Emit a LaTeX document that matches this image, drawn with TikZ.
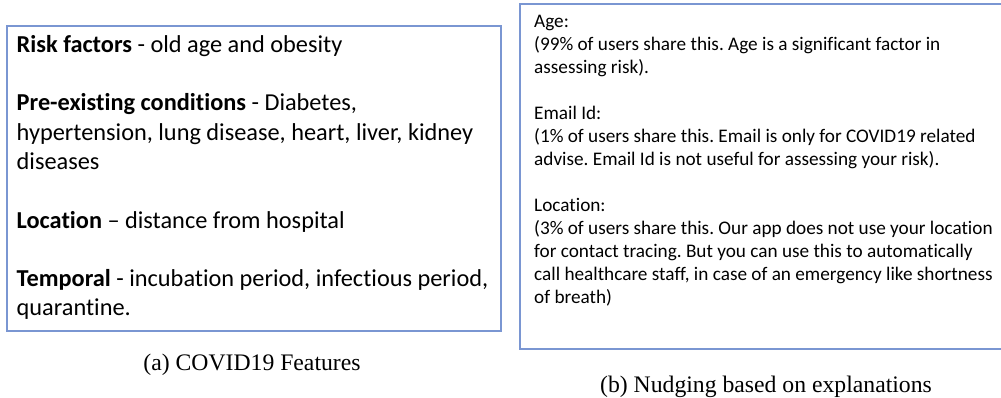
\documentclass[tikz,border=0pt]{standalone}
\usepackage{fontspec}
\setmainfont{Liberation Serif}
\newfontfamily\calib[Ligatures={TeX,NoCommon}]{Carlito}
\newlength\measwd
\newcommand\lsize{24.3}
\newcommand\rsize{19.35}
\AtBeginDocument{%
  \settowidth\measwd{\calib\frenchspacing\fontsize{10}{12}\selectfont hypertension, lung disease, heart, liver, kidney}%
  \ifdim\measwd>1pt \pgfmathsetmacro\lsize{10*456.5/\measwd}\fi
  \settowidth\measwd{\calib\frenchspacing\fontsize{10}{12}\selectfont (3\% of users share this. Our app does not use your location}%
  \ifdim\measwd>1pt \pgfmathsetmacro\rsize{10*458.5/\measwd}\fi
}
\begin{document}
\begin{tikzpicture}[x=1pt,y=-1pt,
  panel/.style={draw=boxblue, line width=1.2pt, inner sep=0pt, outer sep=0pt, anchor=north west},
  lefttext/.style={anchor=north west, inner sep=0pt, align=left, font=\calib\frenchspacing\fontsize{\lsize}{29.3}\selectfont},
  righttext/.style={anchor=north west, inner sep=0pt, align=left, font=\calib\frenchspacing\fontsize{\rsize}{23}\selectfont},
  caption/.style={inner sep=0pt, font=\fontsize{23.7}{28}\selectfont}]
\definecolor{boxblue}{RGB}{122,150,210}
\useasboundingbox (0,0) rectangle (1001,397);
\node[panel, minimum width=494pt, minimum height=305pt] (lbox) at (7,26) {};
\node[panel, minimum width=490pt, minimum height=345pt] (rbox) at (520,4) {};
\node[lefttext] (ltext) at (16.5,35) {\textbf{Risk factors} - old age and obesity\\[29.3pt]
\textbf{Pre-existing conditions} - Diabetes,\\
hypertension, lung disease, heart, liver, kidney\\
diseases\\[29.3pt]
\textbf{Location} – distance from hospital\\[29.3pt]
\textbf{Temporal} - incubation period, infectious period,\\
quarantine.};
\node[righttext] (rtext) at (534,14.5) {Age:\\
(99\% of users share this. Age is a significant factor in\\
assessing risk).\\[23pt]
Email Id:\\
(1\% of users share this. Email is only for COVID19 related\\
advise. Email Id is not useful for assessing your risk).\\[23pt]
Location:\\
(3\% of users share this. Our app does not use your location\\
for contact tracing. But you can use this to automatically\\
call healthcare staff, in case of an emergency like shortness\\
of breath)};
\node[caption] (capa) at (252,365) {(a) COVID19 Features};
\node[caption] (capb) at (766,387) {(b) Nudging based on explanations};
\end{tikzpicture}
\end{document}
